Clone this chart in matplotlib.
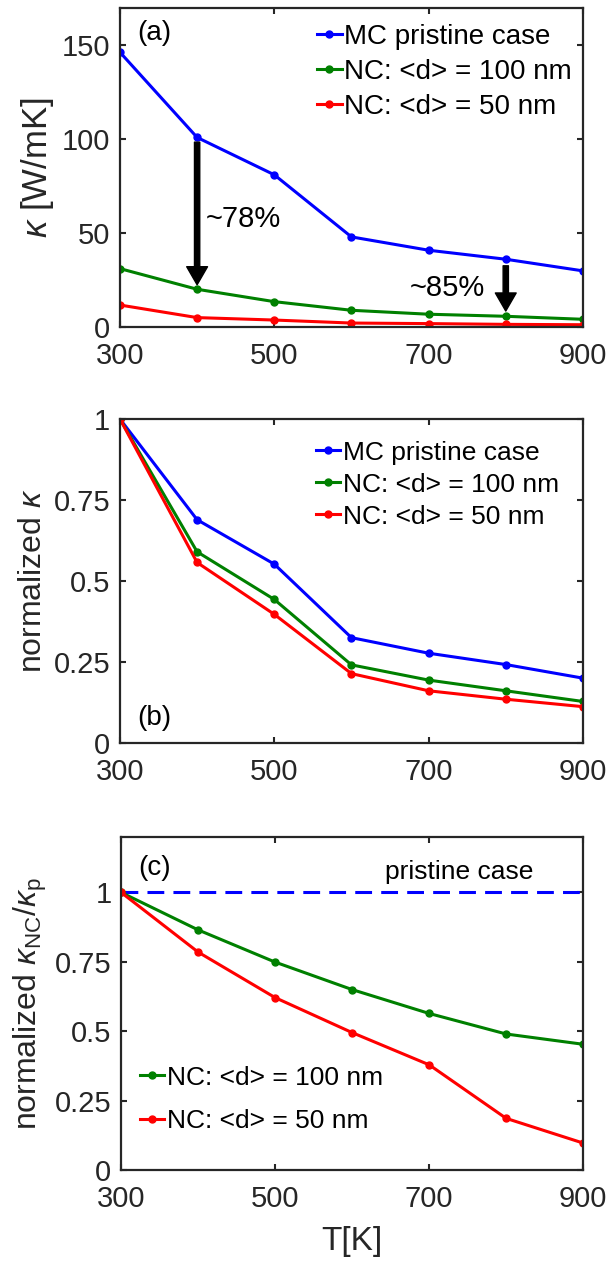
import numpy as np
import matplotlib
matplotlib.use('Agg')
import matplotlib.pyplot as plt

plt.rcParams['font.family'] = ['Liberation Sans', 'DejaVu Sans']
plt.rcParams['mathtext.fontset'] = 'custom'
plt.rcParams['mathtext.rm'] = 'Liberation Sans'
plt.rcParams['mathtext.it'] = 'Liberation Sans:italic'
plt.rcParams['mathtext.sf'] = 'Liberation Sans'

T = [300, 400, 500, 600, 700, 800, 900]

# thermal conductivity [W/mK]
k_mc = [146.4, 101.0, 81.1, 48.0, 40.9, 36.1, 29.9]
k_nc100 = [31.1, 20.1, 13.5, 8.9, 6.8, 5.7, 4.1]
k_nc50 = [11.7, 5.0, 3.7, 2.1, 1.8, 1.4, 1.2]

# normalized to the 300 K value
n_mc = [1.0, 0.689, 0.552, 0.325, 0.277, 0.242, 0.200]
n_nc100 = [1.0, 0.590, 0.443, 0.241, 0.194, 0.161, 0.128]
n_nc50 = [1.0, 0.557, 0.397, 0.214, 0.161, 0.135, 0.112]

# NC over pristine, normalized
r_nc100 = [1.0, 0.865, 0.749, 0.650, 0.564, 0.490, 0.453]
r_nc50 = [1.0, 0.785, 0.621, 0.495, 0.379, 0.186, 0.097]
r_pristine = [1.0, 1.0]
T_pristine = [300, 900]

labels = ['MC pristine case', 'NC: <d> = 100 nm', 'NC: <d> = 50 nm']
colors = ['#0000ff', '#008000', '#ff0000']

# reductions marked with arrows in (a): (T, from, to, text x, text y, text)
drops = [(400, 98.5, 22.5, 411, 57.5, '~78%'),
         (800, 32.6, 8.5, 675, 21, '~85%')]

axcol = '#262626'
tickfs = 21
lw = 2.2
ms = 5

fig = plt.figure(figsize=(6.12, 12.62), dpi=100)
ax1 = fig.add_axes([0.196, 0.7409, 0.7565, 0.2528])
ax2 = fig.add_axes([0.196, 0.4113, 0.7565, 0.2567])
ax3 = fig.add_axes([0.198, 0.0729, 0.7549, 0.2639])


def style(ax):
    for s in ax.spines.values():
        s.set_linewidth(1.6)
        s.set_color(axcol)
    ax.tick_params(direction='in', length=4.5, width=1.5, color=axcol,
                   labelcolor=axcol, labelsize=tickfs, top=True, right=True)
    ax.tick_params(axis='x', pad=11)
    ax.tick_params(axis='y', pad=7)
    ax.set_xlim(300, 900)
    ax.set_xticks([300, 500, 700, 900])


# (a) absolute values
for y, c, lab in zip([k_mc, k_nc100, k_nc50], colors, labels):
    ax1.plot(T, y, '-o', color=c, lw=lw, ms=ms, label=lab)
style(ax1)
ax1.set_ylim(0, 170)
ax1.set_yticks([0, 50, 100, 150])
ax1.set_ylabel(r'$\kappa$ [W/mK]', fontsize=25, color=axcol, labelpad=4)
for x, y0, y1, tx, ty, txt in drops:
    ax1.annotate('', xy=(x, y1), xytext=(x, y0),
                 arrowprops=dict(width=3.8, headwidth=15, headlength=13,
                                 color='k', shrink=0))
    ax1.text(tx, ty, txt, fontsize=21, va='center', ha='left', color='k')
ax1.text(0.037, 0.92, '(a)', transform=ax1.transAxes, fontsize=20,
         va='center', ha='left')
ax1.legend(loc='upper left', bbox_to_anchor=(0.425, 0.95), frameon=False,
           fontsize=20, handlelength=0.9, handletextpad=0.1,
           labelspacing=0.32, borderpad=0, borderaxespad=0)

# (b) normalized
for y, c, lab in zip([n_mc, n_nc100, n_nc50], colors, labels):
    ax2.plot(T, y, '-o', color=c, lw=lw, ms=ms, label=lab)
style(ax2)
ax2.set_ylim(0, 1)
ax2.set_yticks([0, 0.25, 0.5, 0.75, 1])
ax2.set_yticklabels(['0', '0.25', '0.5', '0.75', '1'])
ax2.set_ylabel(r'normalized $\kappa$', fontsize=23, color=axcol, labelpad=4)
ax2.text(0.037, 0.077, '(b)', transform=ax2.transAxes, fontsize=20,
         va='center', ha='left')
ax2.legend(loc='upper left', bbox_to_anchor=(0.424, 0.933), frameon=False,
           fontsize=19, handlelength=0.9, handletextpad=0.1,
           labelspacing=0.3, borderpad=0, borderaxespad=0)

# (c) NC relative to pristine
ax3.plot(T_pristine, r_pristine, '--', color=colors[0], lw=lw, dashes=(5.5, 3))
for y, c, lab in zip([r_nc100, r_nc50], colors[1:], labels[1:]):
    ax3.plot(T, y, '-o', color=c, lw=lw, ms=ms, label=lab)
style(ax3)
ax3.set_ylim(0, 1.2)
ax3.set_yticks([0, 0.25, 0.5, 0.75, 1])
ax3.set_yticklabels(['0', '0.25', '0.5', '0.75', '1'])
ax3.set_ylabel(r'normalized $\kappa_{\mathrm{NC}}/\kappa_{\mathrm{p}}$',
               fontsize=23, color=axcol, labelpad=4)
ax3.set_xlabel('T[K]', fontsize=24, color=axcol, labelpad=9)
ax3.text(0.037, 0.907, '(c)', transform=ax3.transAxes, fontsize=20,
         va='center', ha='left')
ax3.text(642, 1.072, 'pristine case', fontsize=19, va='center', ha='left')
ax3.legend(loc='lower left', bbox_to_anchor=(0.041, 0.11), frameon=False,
           fontsize=19, handlelength=0.9, handletextpad=0.1,
           labelspacing=0.75, borderpad=0, borderaxespad=0)

fig.savefig('out.png', dpi=100)
